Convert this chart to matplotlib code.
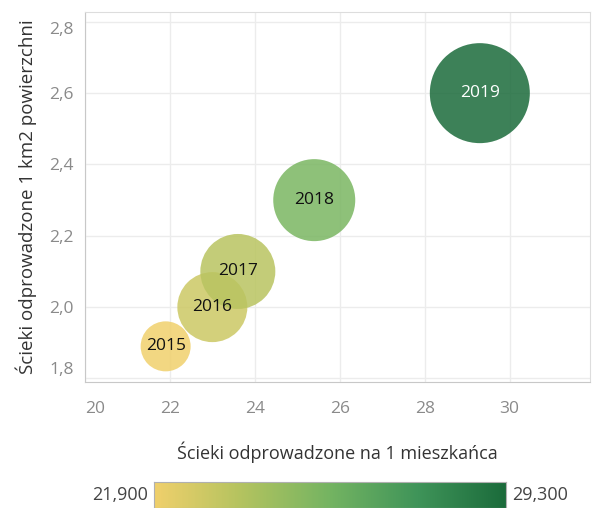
import numpy as np
import matplotlib
matplotlib.use('Agg')
import matplotlib.pyplot as plt
from matplotlib.colors import LinearSegmentedColormap, Normalize

plt.rcParams['font.family'] = ['Open Sans', 'DejaVu Sans']

years = ['2015', '2016', '2017', '2018', '2019']
per_resident = [21.9, 23.0, 23.6, 25.4, 29.3]   # x
per_km2 = [1.89, 2.0, 2.1, 2.3, 2.6]             # y
bubble_val = [25, 35, 37.5, 41, 50]              # bubble radius measure
cbar_min, cbar_max = 21.9, 29.3
cbar_labels = ['21,900', '29,300']

cmap = LinearSegmentedColormap.from_list(
    'ylgn', ['#f0d06c', '#b3c35f', '#74b462', '#3f9459', '#1b6b3b'])
norm = Normalize(cbar_min, cbar_max)

fig = plt.figure(figsize=(5.93, 5.08), dpi=100)
ax = fig.add_axes([0.1433, 0.248, 0.852, 0.728])

sizes = [(2 * r * 0.72) ** 2 for r in bubble_val]
ax.scatter(per_resident, per_km2, s=sizes, c=per_resident, cmap=cmap, norm=norm,
           alpha=0.85, linewidths=0, zorder=3)
for yr, x, y in zip(years, per_resident, per_km2):
    col = 'white' if yr == '2019' else '#111111'
    ax.text(x, y, yr, ha='center', va='center', fontsize=12.5, color=col, zorder=4)

ax.set_xlim(20, 31.9)
ax.set_ylim(1.79, 2.827)
ax.set_xticks([20, 22, 24, 26, 28, 30])
ax.set_yticks([1.8, 2.0, 2.2, 2.4, 2.6, 2.8])
ax.set_xticklabels(['20', '22', '24', '26', '28', '30'])
ax.set_yticklabels(['1,8', '2,0', '2,2', '2,4', '2,6', '2,8'])
ax.tick_params(length=0, labelsize=12.5, colors='#8a8a8a')
ax.tick_params(axis='x', pad=14)
ax.tick_params(axis='y', pad=8)
ax.get_xticklabels()[0].set_ha('left')
ax.get_yticklabels()[0].set_va('bottom')
ax.get_yticklabels()[-1].set_va('top')
ax.grid(True, color='#ececec', linewidth=1, zorder=0)
for s in ax.spines.values():
    s.set_color('#dddddd')
ax.spines['bottom'].set_color('#c8c8c8')
ax.spines['left'].set_color('#c8c8c8')

ax.set_xlabel('Ścieki odprowadzone na 1 mieszkańca', fontsize=13, color='#333333', labelpad=17)
ax.set_ylabel('Ścieki odprowadzone 1 km2 powierzchni', fontsize=13.5, color='#333333', labelpad=9)

# color legend
cax = fig.add_axes([154 / 593, 0.0, (506 - 154) / 593, 26 / 508])
grad = np.linspace(0, 1, 256).reshape(1, -1)
cax.imshow(grad, aspect='auto', cmap=cmap, extent=[0, 1, 0, 1])
cax.set_xticks([])
cax.set_yticks([])
for s in cax.spines.values():
    s.set_color('#b0b0b0')
fig.text(148 / 593, 13 / 508, cbar_labels[0], ha='right', va='center', fontsize=13, color='#444444')
fig.text(512 / 593, 13 / 508, cbar_labels[1], ha='left', va='center', fontsize=13, color='#444444')

fig.savefig('out.png', dpi=100)
